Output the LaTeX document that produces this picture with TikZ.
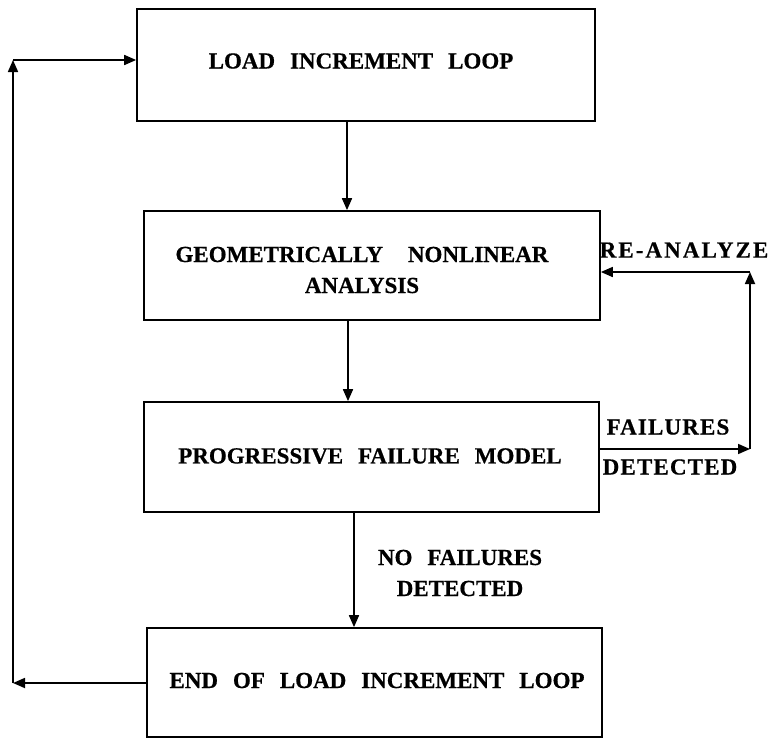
\documentclass[tikz,border=0pt]{standalone}
\usepackage{fontspec}
\setmainfont{Liberation Serif}[WordSpace={2.6,0,0}, BoldFeatures={FakeBold=0.6}]
\usetikzlibrary{arrows.meta}
\begin{document}
\begin{tikzpicture}[x=1bp,y=-1bp,
  every node/.style={font=\bfseries\fontsize{23bp}{31bp}\selectfont, inner sep=0pt},
  box/.style={draw, line width=1.7bp, minimum width=#1, anchor=center},
  conn/.style={line width=1.7bp, -{Triangle[length=12bp,width=10bp]}},
  lbl/.style={align=center},
  spaced/.style={font=\bfseries\fontsize{23bp}{31bp}\selectfont\addfontfeature{LetterSpace=#1}}]
\useasboundingbox (0,0) rectangle (769,739);

% process boxes
\node[box=458bp, minimum height=112bp] (b1) at (366,65) {};
\node[box=456bp, minimum height=109bp] (b2) at (372,265.5) {};
\node[box=455bp, minimum height=110bp] (b3) at (371.5,457) {};
\node[box=455bp, minimum height=109bp] (b4) at (374.5,682.5) {};

% box texts
\node[lbl] (t1) at (361,61) {LOAD INCREMENT LOOP};
\node[lbl] (t2) at (362,270) {GEOMETRICALLY\hspace{10bp} NONLINEAR\\ANALYSIS};
\node[lbl] (t3) at (370,456) {PROGRESSIVE FAILURE MODEL};
\node[lbl] (t4) at (377,680.5) {END OF LOAD INCREMENT LOOP};

% guide coordinates for the connectors
\coordinate (x1) at (347,0);
\coordinate (x2) at (348,0);
\coordinate (x3) at (354,0);
\coordinate (rloopA) at (750,449);
\coordinate (rloopB) at (750,272);
\coordinate (lloopA) at (13,683);
\coordinate (lloopB) at (13,60);

% main flow
\draw[conn] (b1.south -| x1) -- (b2.north -| x1);
\draw[conn] (b2.south -| x2) -- (b3.north -| x2);
\draw[conn] (b3.south -| x3) -- (b4.north -| x3);

% re-analysis loop
\draw[conn] (b3.east |- rloopA) -- (rloopA);
\draw[conn] (rloopA) -- (rloopB);
\draw[conn] (rloopB) -- (b2.east |- rloopB);

% load increment loop
\draw[conn] (b4.west |- lloopA) -- (lloopA);
\draw[conn] (lloopA) -- (lloopB);
\draw[conn] (lloopB) -- (b1.west |- lloopB);

% connector labels
\node[lbl] (nf) at (460,573) {NO FAILURES\\DETECTED};
\node[spaced=5] (fa) at (668,427) {FAILURES};
\node[spaced=5] (de) at (670,467) {DETECTED};
\node[spaced=9] (ra) at (684,250) {RE-ANALYZE};
\end{tikzpicture}
\end{document}
